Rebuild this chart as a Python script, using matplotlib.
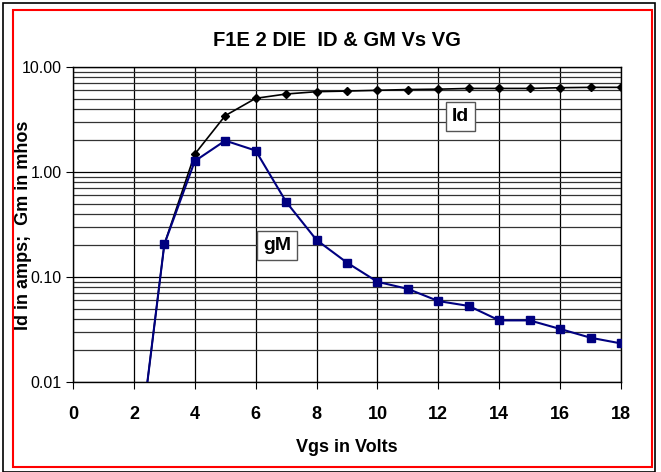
import numpy as np
import matplotlib
matplotlib.use('Agg')
import matplotlib.pyplot as plt
from matplotlib.patches import Rectangle
from matplotlib.ticker import FixedLocator, LogLocator, NullFormatter

# data
vgs = [2, 3, 4, 5, 6, 7, 8, 9, 10, 11, 12, 13, 14, 15, 16, 17, 18]
id_amps = [0.0009, 0.205, 1.48, 3.44, 5.03, 5.53, 5.82, 5.9, 6.0, 6.1, 6.15,
           6.25, 6.25, 6.25, 6.35, 6.4, 6.4]
gm_mhos = [0.0009, 0.205, 1.27, 1.99, 1.6, 0.52, 0.225, 0.137, 0.090, 0.077,
           0.059, 0.053, 0.0386, 0.0386, 0.032, 0.0264, 0.0233]
xticks = [0, 2, 4, 6, 8, 10, 12, 14, 16, 18]
yticks = [0.01, 0.1, 1, 10]
ylabels = ['0.01', '0.10', '1.00', '10.00']

plt.rcParams['font.family'] = ['Liberation Sans', 'DejaVu Sans']

fig = plt.figure(figsize=(6.61, 4.72), dpi=100)
ax = fig.add_axes([73/661, 1-382/472, 548/661, 315/472])

ax.plot(vgs, id_amps, color='black', lw=1.2, marker='D', ms=4, zorder=4)
ax.plot(vgs, gm_mhos, color='#000080', lw=1.5, marker='s', ms=6, zorder=5)

ax.set_yscale('log')
ax.set_xlim(0, 18)
ax.set_ylim(0.01, 10)
ax.xaxis.set_major_locator(FixedLocator(xticks))
ax.set_xticklabels([str(t) for t in xticks], fontsize=13, fontweight='bold')
ax.yaxis.set_major_locator(FixedLocator(yticks))
ax.set_yticklabels(ylabels, fontsize=11.5)
ax.yaxis.set_minor_locator(LogLocator(base=10, subs=np.arange(2, 10)))
ax.yaxis.set_minor_formatter(NullFormatter())
ax.tick_params(axis='y', which='minor', length=0)
ax.tick_params(axis='both', which='major', length=5, width=0.8, direction='out')
ax.tick_params(axis='x', pad=12)
ax.tick_params(axis='y', pad=3)

ax.grid(True, which='major', color='black', lw=0.9)
ax.grid(True, which='minor', axis='y', color='#333333', lw=0.9)
for s in ax.spines.values():
    s.set_linewidth(1)

ax.set_xlabel('Vgs in Volts', fontsize=13, fontweight='bold', labelpad=12)
fig.text(24/661, 1-225/472, 'Id in amps;  Gm in mhos', rotation=90, fontsize=13,
         fontweight='bold', ha='center', va='center', zorder=10)
fig.text(337/661, 1-40/472, 'F1E 2 DIE  ID & GM Vs VG', fontsize=14.5,
         fontweight='bold', ha='center', va='center')

box = dict(boxstyle='square,pad=0.3', fc='white', ec='#555555', lw=1)
ax.text(12.72, 3.4, 'Id', fontsize=14, fontweight='bold', ha='center',
        va='center', bbox=box, zorder=6)
ax.text(6.7, 0.2, 'gM', fontsize=14, fontweight='bold', ha='center',
        va='center', bbox=box, zorder=6)

# frames around the chart
fig.patches.append(Rectangle((3/661, 0), 652/661, 469/472, transform=fig.transFigure,
                             fill=False, ec='black', lw=1.2))
fig.patches.append(Rectangle((13/661, 5/472), 639/661, 457/472, transform=fig.transFigure,
                             fill=False, ec='red', lw=1.5))

fig.savefig('out.png', dpi=100)
